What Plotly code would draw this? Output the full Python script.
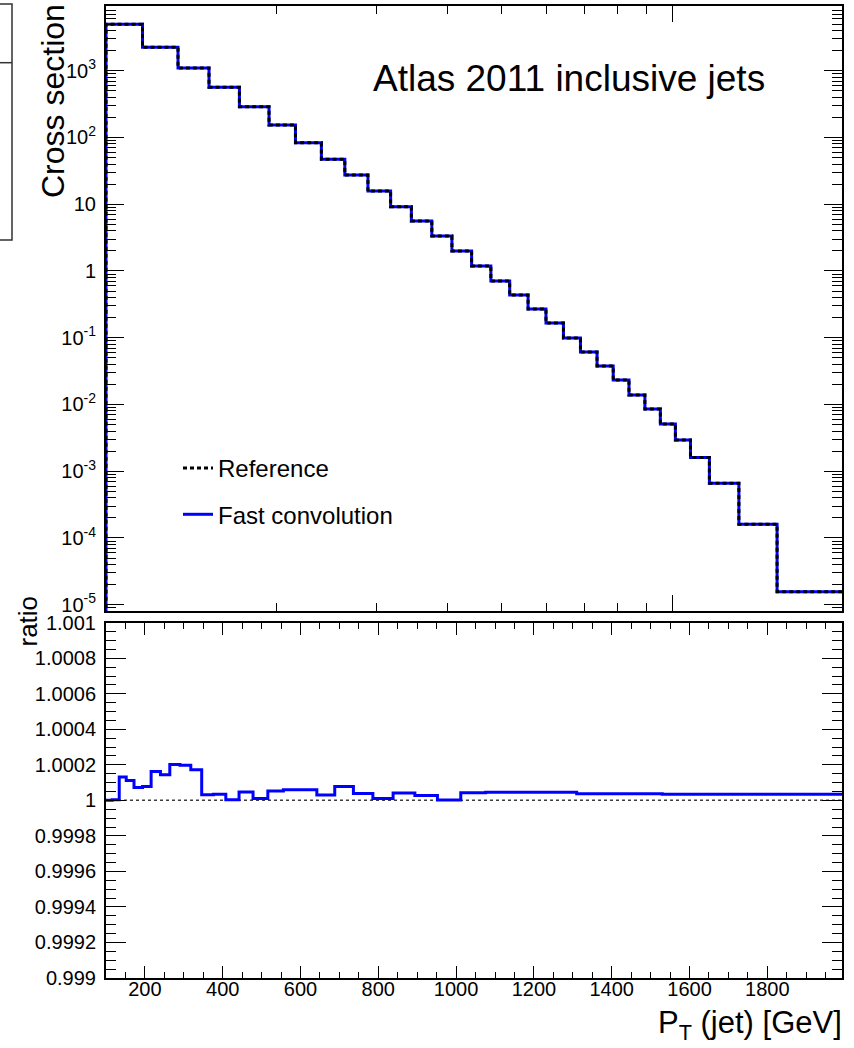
import math
import plotly.graph_objects as go

# ---------------- data ----------------
pt_edges = [100, 116, 134, 152, 172, 194, 216, 240, 264, 290, 318, 346, 376, 408, 442,
            478, 516, 556, 598, 642, 688, 736, 786, 838, 894, 952, 1012, 1076, 1162,
            1310, 1530, 1992]

xsec_reference = [4955, 2242, 1098, 564, 289, 153.7, 83.4, 47.1, 27.4, 15.8,
                  9.17, 5.60, 3.34, 1.99, 1.19, 0.71, 0.436, 0.269, 0.166, 0.099,
                  0.061, 0.0377, 0.0232, 0.0138, 0.00855, 0.0051, 0.00293, 1.61e-3,
                  6.59e-4, 1.60e-4, 1.57e-5]

ratio_values = [1.000000, 1.000004, 1.000131, 1.000112, 1.000073, 1.000078, 1.000163,
                1.000144, 1.000202, 1.000198, 1.000172, 1.000032, 1.000034, 1.000004,
                1.000047, 1.000011, 1.000052, 1.000060, 1.000060, 1.000030, 1.000078,
                1.000039, 1.000011, 1.000041, 1.000028, 1.000002, 1.000043, 1.000045,
                1.000045, 1.000037, 1.000034]

xsec_fast = [r * v for r, v in zip(ratio_values, xsec_reference)]

log_y_ticks = [1e-5, 1e-4, 1e-3, 1e-2, 1e-1, 1, 10, 100, 1000]
log_y_ticktext = ["10<sup>-5</sup>", "10<sup>-4</sup>", "10<sup>-3</sup>", "10<sup>-2</sup>",
                  "10<sup>-1</sup>", "1", "10", "10<sup>2</sup>", "10<sup>3</sup>"]
ratio_ticks = [0.999, 0.9992, 0.9994, 0.9996, 0.9998, 1.0, 1.0002, 1.0004, 1.0006, 1.0008, 1.001]
ratio_ticktext = ["0.999", "0.9992", "0.9994", "0.9996", "0.9998", "1",
                  "1.0002", "1.0004", "1.0006", "1.0008", "1.001"]

title_text = "Atlas 2011 inclusive jets"

# ---------------- geometry ----------------
W, H = 854, 1048
ML, MR, MT, MB = 106, 12, 6, 70
PW, PH = W - ML - MR, H - MT - MB
FONT = "Liberation Sans, Arial, Helvetica, sans-serif"

top_y_range = [-5.094, 3.969]
ratio_range = [0.999, 1.001]
x_lin_range = [pt_edges[0], pt_edges[-1]]
x_log_range = [math.log10(pt_edges[0]), math.log10(pt_edges[-1])]


def px_x(p):
    return (p - ML) / PW


def px_y(p):
    return (H - MB - p) / PH


# step arrays (start from the frame bottom like a ROOT histogram)
step_x = [pt_edges[0]] + pt_edges
step_ref = [10 ** (top_y_range[0] - 1)] + xsec_reference + [xsec_reference[-1]]
step_fast = [10 ** (top_y_range[0] - 1)] + xsec_fast + [xsec_fast[-1]]
ratio_y = ratio_values + [ratio_values[-1]]

fig = go.Figure()

fig.add_trace(go.Scatter(x=step_x, y=step_fast, mode="lines", line_shape="hv",
                         line=dict(color="rgb(0,0,255)", width=3),
                         name="Fast convolution", legendgroup="b", legendrank=2,
                         xaxis="x", yaxis="y"))
fig.add_trace(go.Scatter(x=step_x, y=step_ref, mode="lines", line_shape="hv",
                         line=dict(color="black", width=3, dash="4px,3px"),
                         name="Reference", legendgroup="a", legendrank=1,
                         xaxis="x", yaxis="y"))

fig.add_trace(go.Scatter(x=x_lin_range, y=[1, 1], mode="lines",
                         line=dict(color="rgb(60,60,60)", width=1.5, dash="dot"),
                         showlegend=False, xaxis="x2", yaxis="y2"))
fig.add_trace(go.Scatter(x=pt_edges, y=ratio_y, mode="lines", line_shape="hv",
                         line=dict(color="rgb(0,0,255)", width=3),
                         showlegend=False, xaxis="x2", yaxis="y2"))

top_dom = [px_y(611), 1.0]
bot_dom = [0.0, px_y(622.7)]

minor_logx = [v * m for v in (100, 1000) for m in range(2, 10) if v * m < pt_edges[-1]]
minor_logy = [m * 10 ** k for k in range(-6, 4) for m in range(2, 10)]

axis_common = dict(showline=True, linecolor="black", linewidth=2, mirror="ticks",
                   ticks="inside", tickcolor="black", tickwidth=1.2,
                   showgrid=False, zeroline=False, automargin=False,
                   tickfont=dict(family=FONT, size=20, color="black"))

fig.update_layout(
    width=W, height=H,
    margin=dict(l=ML, r=MR, t=MT, b=MB, autoexpand=False),
    paper_bgcolor="white", plot_bgcolor="white",
    font=dict(family=FONT, color="black"),
    xaxis=dict(type="log", range=x_log_range, domain=[0, 1], anchor="y",
               showticklabels=False, tickmode="array", tickvals=[100, 1000], ticklen=16,
               minor=dict(tickmode="array", tickvals=minor_logx, ticks="inside",
                          ticklen=8, tickcolor="black", tickwidth=1.2),
               **axis_common),
    yaxis=dict(type="log", range=top_y_range, domain=top_dom, anchor="x",
               tickmode="array", tickvals=log_y_ticks, ticktext=log_y_ticktext,
               ticklen=18, ticklabelstandoff=4,
               minor=dict(tickmode="array", tickvals=minor_logy, ticks="inside",
                          ticklen=10, tickcolor="black", tickwidth=1.2),
               **axis_common),
    xaxis2=dict(range=x_lin_range, domain=[0, 1], anchor="y2",
                tickmode="linear", tick0=0, dtick=200, ticklen=12, ticklabelstandoff=-8,
                minor=dict(tickmode="linear", tick0=0, dtick=50, ticks="inside",
                           ticklen=6, tickcolor="black", tickwidth=1.2),
                **axis_common),
    yaxis2=dict(range=ratio_range, domain=bot_dom, anchor="x2",
                tickmode="array", tickvals=ratio_ticks, ticktext=ratio_ticktext,
                ticklen=20, ticklabelstandoff=4,
                minor=dict(tickmode="linear", tick0=0.999, dtick=0.00005, ticks="inside",
                           ticklen=10, tickcolor="black", tickwidth=1.2),
                **axis_common),
    legend=dict(x=px_x(178), y=px_y(446), xanchor="left", yanchor="top",
                bgcolor="rgba(0,0,0,0)", traceorder="grouped", tracegroupgap=12,
                font=dict(family=FONT, size=24, color="black")),
    showlegend=True,
)

annotations = [
    dict(text=title_text, xref="paper", yref="paper", x=px_x(371), y=px_y(79),
         xanchor="left", yanchor="middle", showarrow=False,
         font=dict(family=FONT, size=37, color="black")),
    dict(text="Cross section", xref="paper", yref="paper", x=px_x(53), y=px_y(2),
         xanchor="center", yanchor="top", textangle=-90, showarrow=False,
         font=dict(family=FONT, size=32, color="black")),
    dict(text="ratio", xref="paper", yref="paper", x=px_x(27), y=px_y(594),
         xanchor="center", yanchor="top", textangle=-90, showarrow=False,
         font=dict(family=FONT, size=26, color="black")),
    dict(text="P<sub>T</sub> (jet) [GeV]", xref="paper", yref="paper", x=px_x(844), y=px_y(1003),
         xanchor="right", yanchor="top", showarrow=False,
         font=dict(family=FONT, size=31, color="black")),
]
fig.update_layout(annotations=annotations)

# partial frame visible at the far left edge
fig.add_shape(type="rect", xref="paper", yref="paper",
              x0=px_x(-10), x1=px_x(12), y0=px_y(240), y1=px_y(4),
              line=dict(color="rgb(50,50,50)", width=1.5))
fig.add_shape(type="line", xref="paper", yref="paper",
              x0=px_x(-10), x1=px_x(12), y0=px_y(62.7), y1=px_y(62.7),
              line=dict(color="rgb(50,50,50)", width=1.5))

fig.write_html("out.html", config={"displayModeBar": False},
               post_script="document.body.style.margin='0';")
